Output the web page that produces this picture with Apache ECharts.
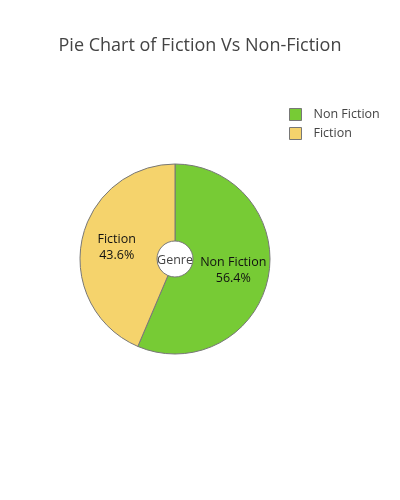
<!DOCTYPE html>
<html lang="en">
<head>
  <meta charset="utf-8">
  <title>Pie Chart of Fiction Vs Non-Fiction</title>
  <script type="text/javascript" src="https://fastly.jsdelivr.net/npm/echarts@6/dist/echarts.min.js"></script>
  <style type="text/css">
    * {
      margin: 0;
      padding: 0;
    }
    html, body, #chart {
      width: 100%;
      height: 100%;
      overflow: hidden;
      background: #fff;
    }
  </style>
</head>
<body>
  <div id="chart"></div>
  <script type="text/javascript">
    // data
    var genres = ['Non Fiction', 'Fiction'];
    var shares = [56.4, 43.6];
    var genreColors = ['#77cb35', '#f5d36c'];

    var font = '"Open Sans", verdana, arial, sans-serif';

    var option = {
      animation: false,
      title: {
        text: 'Pie Chart of Fiction Vs Non-Fiction',
        left: 'center',
        top: 32,
        textStyle: {
          fontFamily: font,
          fontSize: 18,
          fontWeight: 'normal',
          color: '#444'
        }
      },
      legend: {
        orient: 'vertical',
        left: 284,
        top: 103,
        itemWidth: 12,
        itemHeight: 12,
        itemGap: 6,
        icon: 'rect',
        data: genres,
        itemStyle: {
          borderColor: '#777',
          borderWidth: 1
        },
        textStyle: {
          fontFamily: font,
          fontSize: 12.5,
          color: '#444',
          padding: [0, 0, 0, 7]
        }
      },
      graphic: [{
        type: 'text',
        z: 100,
        style: {
          text: 'Genre',
          x: 175,
          y: 260,
          align: 'center',
          verticalAlign: 'middle',
          font: '12.5px ' + font,
          fill: '#444'
        }
      }],
      series: [{
        type: 'pie',
        center: [175, 259],
        radius: [18, 95],
        startAngle: 90,
        clockwise: true,
        avoidLabelOverlap: false,
        itemStyle: {
          borderColor: '#777',
          borderWidth: 1
        },
        label: {
          show: true,
          position: 'inside',
          formatter: '{b}\n{d}%',
          fontFamily: font,
          fontSize: 12.5,
          lineHeight: 16,
          color: '#111'
        },
        labelLine: { show: false },
        emphasis: { disabled: true },
        data: genres.map(function (name, i) {
          return {
            name: name,
            value: shares[i],
            itemStyle: { color: genreColors[i] }
          };
        })
      }]
    };

    var chart = echarts.init(document.getElementById('chart'));
    chart.setOption(option);
  </script>
</body>
</html>
